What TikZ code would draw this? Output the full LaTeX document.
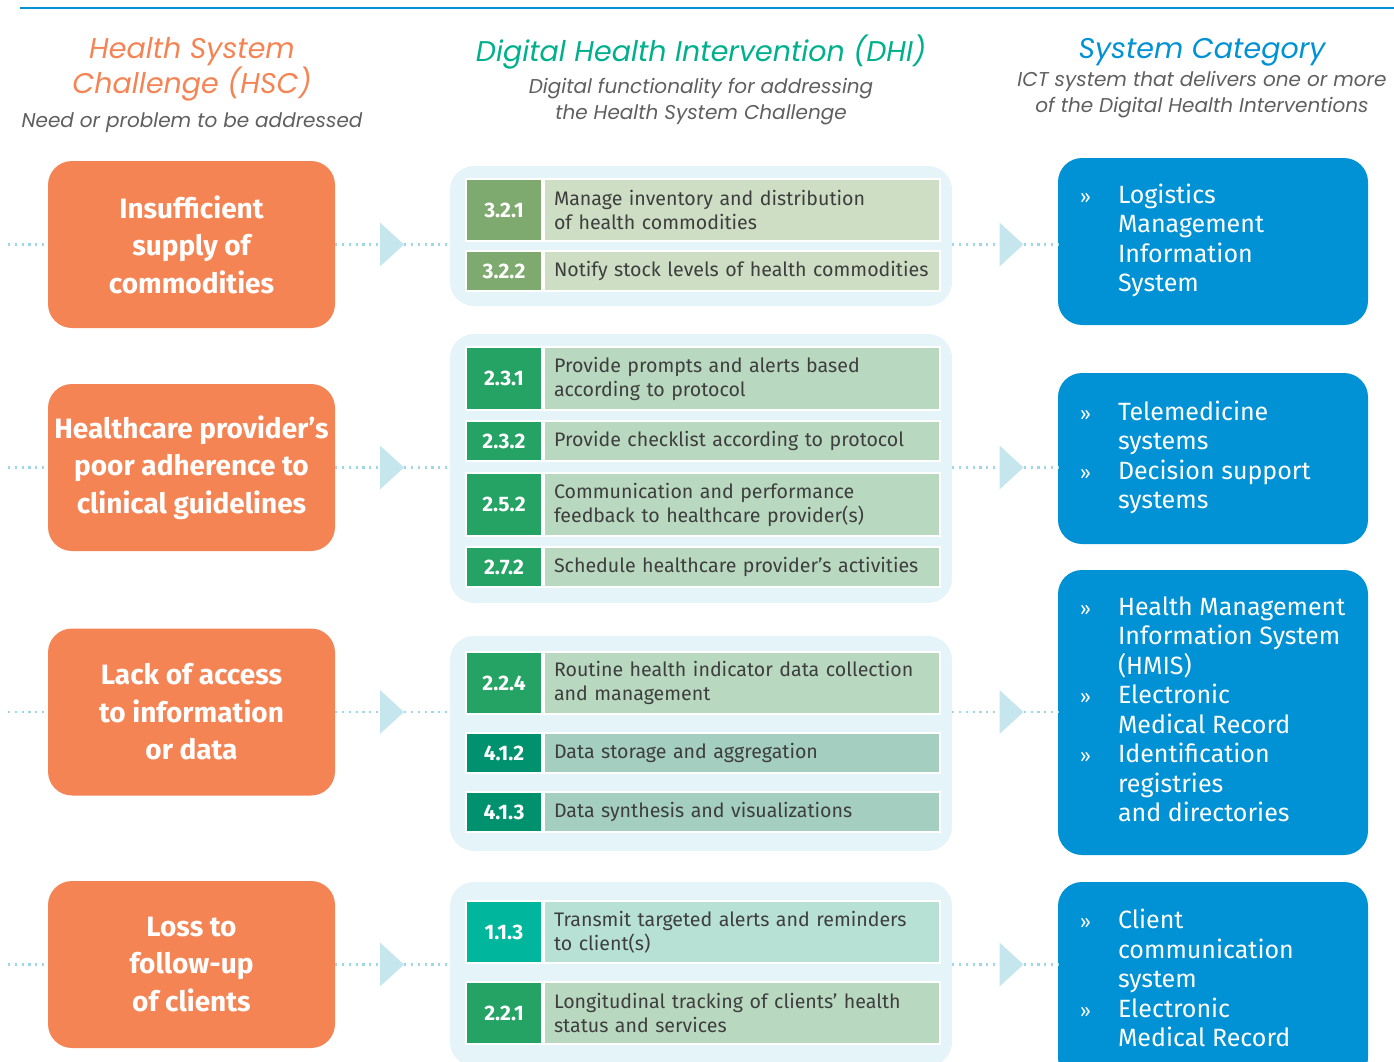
\documentclass[tikz,border=0pt]{standalone}
\usepackage{fontspec}
\usepackage{array}
\setmainfont{Fira Sans}
\newfontfamily\headfont{Poppins}
\usetikzlibrary{positioning}

\definecolor{hscorange}{RGB}{245,132,85}
\definecolor{dhigreen}{RGB}{0,176,140}
\definecolor{sysblue}{RGB}{0,146,213}
\definecolor{panelblue}{RGB}{228,244,248}
\definecolor{tricol}{RGB}{198,230,238}
\definecolor{dotcol}{RGB}{160,215,230}
\definecolor{subgray}{RGB}{95,95,95}
\definecolor{txtgray}{RGB}{62,62,62}
\definecolor{num3}{RGB}{126,170,111}
\definecolor{txt3}{RGB}{205,222,196}
\definecolor{num2}{RGB}{37,163,100}
\definecolor{txt2}{RGB}{185,216,192}
\definecolor{num4}{RGB}{0,145,110}
\definecolor{txt4}{RGB}{163,206,192}
\definecolor{num1}{RGB}{0,182,157}
\definecolor{txt1}{RGB}{184,225,214}

\newcommand{\sysbul}{{\fontsize{19}{19}\selectfont »}}

\tikzset{
  hscbox/.style={fill=hscorange, rounded corners=24pt, minimum width=287pt,
    minimum height=167pt, inner sep=0pt, align=center, text=white,
    font=\fontsize{28}{37.5}\selectfont\bfseries},
  dhipanel/.style={fill=panelblue, rounded corners=24pt, minimum width=502pt, inner sep=0pt},
  sysbox/.style={fill=sysblue, rounded corners=24pt, minimum width=310pt,
    inner sep=0pt, text=white, font=\fontsize{25}{29.5}\selectfont},
  numcell/.style={draw=white, line width=2pt, minimum width=76pt, inner sep=0pt,
    text=white, font=\fontsize{21}{24}\selectfont\bfseries},
  txtcell/.style={draw=white, line width=2pt, anchor=west, minimum width=396pt,
    text width=376pt, inner xsep=10pt, inner ysep=0pt, align=left, text=txtgray,
    font=\fontsize{19.6}{24}\selectfont},
  flowtri/.style={minimum width=24pt, minimum height=44pt, inner sep=0pt,
    path picture={\fill[tricol] (path picture bounding box.north west)
      -- (path picture bounding box.east) -- (path picture bounding box.south west) -- cycle;}},
  flowdot/.style={dotcol, line width=2.2pt, dash pattern=on 2.2pt off 4.6pt},
  headline/.style={font=\headfont\itshape\fontsize{28.5}{35}\selectfont, align=center},
  subline/.style={font=\headfont\itshape\fontsize{20}{26}\selectfont, text=subgray, align=center}
}

\begin{document}
\begin{tikzpicture}[x=1pt, y=-1pt]

  \useasboundingbox (0,0) rectangle (1394,1062);
  \draw[sysblue, line width=2.5pt] (20,8) -- (1394,8);

  % column headings
  \node[headline, text=hscorange] (hschead) at (192,69.5) {Health System\\Challenge (HSC)};
  \node[subline] (hscsub) at (192,123) {Need or problem to be addressed};
  \node[headline, text=dhigreen] (dhihead) at (701,52) {Digital Health Intervention (DHI)};
  \node[subline] (dhisub) at (701,102) {Digital functionality for addressing\\the Health System Challenge};
  \node[headline, text=sysblue] (syshead) at (1202,52) {System Category};
  \node[subline] (syssub) at (1202,95) {ICT system that delivers one or more\\of the Digital Health Interventions};

  % DHI panels
  \foreach \i/\yc/\hh in {1/236/140, 2/468.5/269, 3/743.5/215, 4/974/184}
    \node[dhipanel, minimum height=\hh pt] (dhi\i) at (701,\yc) {};

  % DHI cells
  \foreach \cid/\yc/\hh/\grp/\code/\desc in {
      321/210/62/3/3.2.1/{Manage inventory and distribution\\of health commodities},
      322/271/40/3/3.2.2/{Notify stock levels of health commodities},
      231/378.5/63/2/2.3.1/{Provide prompts and alerts based\\according to protocol},
      232/441/40/2/2.3.2/{Provide checklist according to protocol},
      252/504.5/63/2/2.5.2/{Communication and performance\\feedback to healthcare provider(s)},
      272/567/40/2/2.7.2/{Schedule healthcare provider’s activities},
      224/683/62/2/2.2.4/{Routine health indicator data collection\\and management},
      412/753/40/4/4.1.2/{Data storage and aggregation},
      413/812/40/4/4.1.3/{Data synthesis and visualizations},
      113/932/62/1/1.1.3/{Transmit targeted alerts and reminders\\to client(s)},
      221/1013/62/2/2.2.1/{Longitudinal tracking of clients’ health\\status and services}}{
    \node[numcell, fill=num\grp, minimum height=\hh pt] (c\cid) at (504,\yc) {\code};
    \node[txtcell, fill=txt\grp, minimum height=\hh pt] (t\cid) at (c\cid.east) {\desc};
  }

  % health system challenges
  \foreach \i/\yc/\desc in {
      1/244.5/{Insufficient\\supply of\\commodities},
      2/467.5/{Healthcare provider’s\\poor adherence to\\clinical guidelines},
      3/712/{Lack of access\\to information\\or data},
      4/964.5/{Loss to\\follow-up\\of clients}}
    \node[hscbox] (hsc\i) at (191.5,\yc) {\desc};

  % system categories
  \node[sysbox, minimum height=167pt] (sys1) at (1213,241.5) {%
    \begin{tabular}{@{}p{38pt}@{}p{228pt}@{}}
      \sysbul & Logistics\newline Management\newline Information\newline System
    \end{tabular}};
  \node[sysbox, minimum height=171pt] (sys2) at (1213,458.5) {%
    \begin{tabular}{@{}p{38pt}@{}p{228pt}@{}}
      \sysbul & Telemedicine\newline systems \\[6.5pt]
      \sysbul & Decision support\newline systems
    \end{tabular}};
  \node[sysbox, minimum height=285pt] (sys3) at (1213,712.5) {%
    \begin{tabular}{@{}p{38pt}@{}p{228pt}@{}}
      \sysbul & Health Management\newline Information System\newline (HMIS) \\[6.5pt]
      \sysbul & Electronic\newline Medical Record \\[6.5pt]
      \sysbul & Identification\newline registries\newline and directories
    \end{tabular}};
  \node[sysbox, minimum height=200pt] (sys4) at (1213,982) {%
    \begin{tabular}{@{}p{38pt}@{}p{228pt}@{}}
      \sysbul & Client\newline communication\newline system \\[6.5pt]
      \sysbul & Electronic\newline Medical Record
    \end{tabular}};

  % dotted flow lines
  \foreach \i/\yc in {1/244.5, 2/467.5, 3/712, 4/964.5}{
    \coordinate (s\i) at (8,\yc);
    \node[flowtri] (ta\i) at (392,\yc) {};
    \node[flowtri] (tb\i) at (1011.5,\yc) {};
    \draw[flowdot] (s\i) -- (hsc\i);
    \draw[flowdot] (hsc\i) -- (ta\i);
    \draw[flowdot] (ta\i) -- (ta\i -| dhi\i.west);
    \draw[flowdot] (dhi\i.east |- ta\i) -- (tb\i);
    \draw[flowdot] (tb\i) -- (tb\i -| sys\i.west);
  }

\end{tikzpicture}
\end{document}
